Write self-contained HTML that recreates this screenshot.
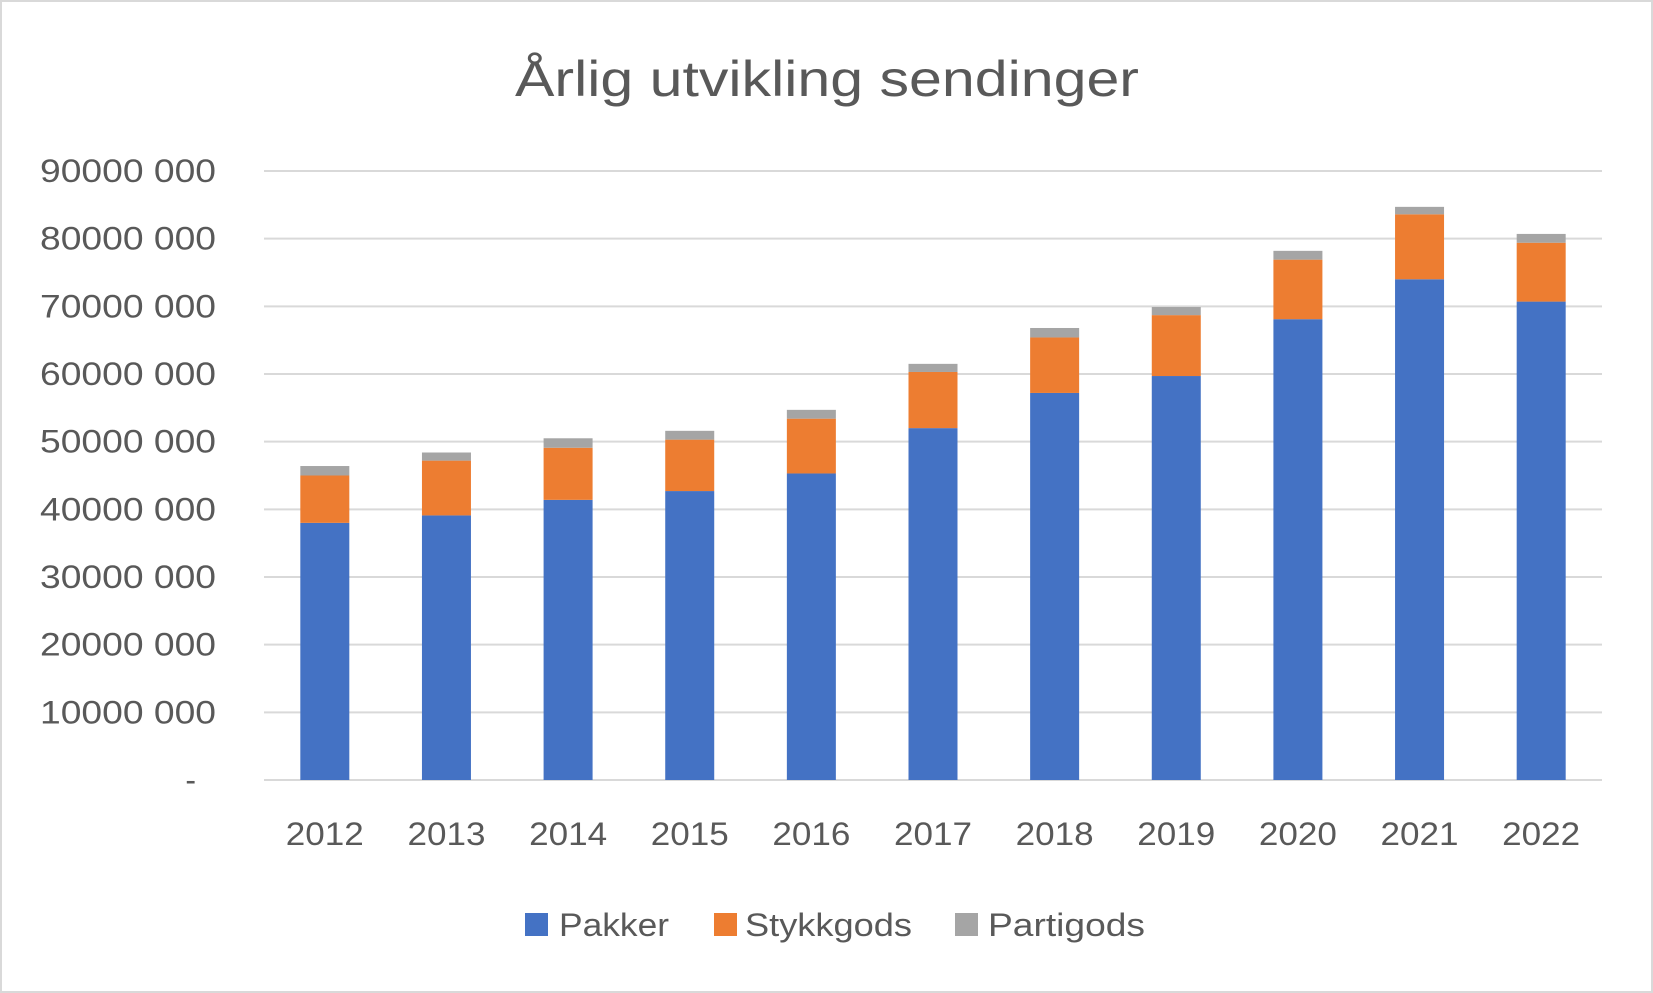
<!DOCTYPE html>
<html><head><meta charset="utf-8"><style>
html,body{margin:0;padding:0;background:#fff;}
svg{display:block;font-family:"Liberation Sans",sans-serif;}
</style></head><body>
<svg id="chart" width="1653" height="993" viewBox="0 0 1653 993" xmlns="http://www.w3.org/2000/svg">
<rect x="1" y="1" width="1651" height="991" fill="#fff" stroke="#d9d9d9" stroke-width="2"/>
<text x="827" y="96" text-anchor="middle" font-size="50" fill="#595959" textLength="624" lengthAdjust="spacingAndGlyphs">Årlig utvikling sendinger</text>
<g id="grid"></g>
<g id="bars"></g>
<g id="yticks"></g>
<g id="xticks"></g>
<g>
<rect x="525" y="913" width="23" height="23" fill="#4472c4"/>
<text x="559" y="936" font-size="32" fill="#595959" textLength="110" lengthAdjust="spacingAndGlyphs">Pakker</text>
<rect x="714" y="913" width="23" height="23" fill="#ed7d31"/>
<text x="745" y="936" font-size="32" fill="#595959" textLength="167" lengthAdjust="spacingAndGlyphs">Stykkgods</text>
<rect x="955" y="913" width="23" height="23" fill="#a5a5a5"/>
<text x="988" y="936" font-size="32" fill="#595959" textLength="157" lengthAdjust="spacingAndGlyphs">Partigods</text>
</g>
</svg>
<script>
const years = ["2012","2013","2014","2015","2016","2017","2018","2019","2020","2021","2022"];
const pakker = [38.0,39.1,41.4,42.7,45.3,52.0,57.2,59.7,68.1,74.0,70.7];
const stykkgods = [7.0,8.1,7.7,7.6,8.1,8.3,8.2,9.0,8.8,9.6,8.7];
const partigods = [1.4,1.2,1.4,1.3,1.3,1.2,1.4,1.2,1.3,1.1,1.3];
const yTicks = [0,10,20,30,40,50,60,70,80,90];
const yTickLabels = ["-","10000 000","20000 000","30000 000","40000 000","50000 000","60000 000","70000 000","80000 000","90000 000"];

const NS="http://www.w3.org/2000/svg";
const X0=264, X1=1602, Y0=780, Y90=171;
const y=v=>Y0-(v/90)*(Y0-Y90);
const band=(X1-X0)/years.length;
const xc=i=>X0+band*(i+0.5);
const bw=49;
function mk(tag,attrs,parent){const e=document.createElementNS(NS,tag);for(const k in attrs)e.setAttribute(k,attrs[k]);parent.appendChild(e);return e;}
const grid=document.getElementById('grid'),bars=document.getElementById('bars'),yt=document.getElementById('yticks'),xt=document.getElementById('xticks');
yTicks.forEach((t,i)=>{
  const l=mk('line',{x1:X0,x2:X1,y1:y(t),y2:y(t),stroke:'#d9d9d9','stroke-width':2},grid);
  
  
  const tx=mk('text',{x:216,y:y(t)+11,'text-anchor':'end','font-size':32,fill:'#595959'},yt);
  
  
  if(i>0){tx.setAttribute('textLength',176);tx.setAttribute('lengthAdjust','spacingAndGlyphs');}
  else{tx.setAttribute('x',196);}
  tx.textContent=yTickLabels[i];
});
const series=[[pakker,'#4472c4','pakker'],[stykkgods,'#ed7d31','stykkgods'],[partigods,'#a5a5a5','partigods']];
years.forEach((yr,i)=>{
  let base=0;
  series.forEach(([arr,col,nm])=>{
    const top=base+arr[i];
    const r=mk('rect',{x:xc(i)-bw/2,y:y(top),width:bw,height:y(base)-y(top),fill:col},bars);
    
    
    base=top;
  });
  const tx=mk('text',{x:xc(i),y:845,'text-anchor':'middle','font-size':32,fill:'#595959',textLength:78,lengthAdjust:'spacingAndGlyphs'},xt);
  
  
  tx.textContent=yr;
});
</script>
</body></html>
